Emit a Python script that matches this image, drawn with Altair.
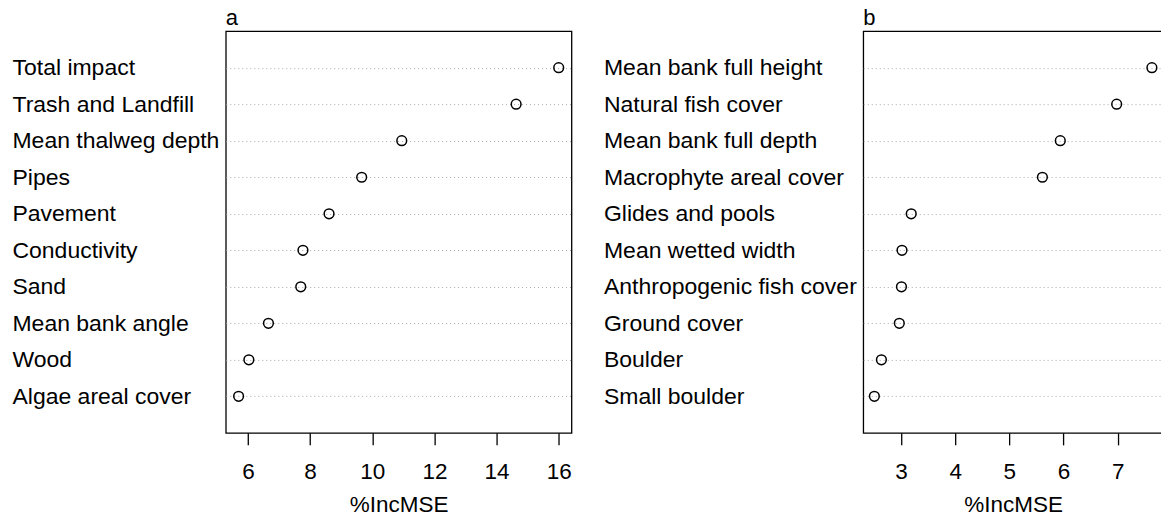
import altair as alt
import pandas as pd

FONT = "Liberation Sans"

# Panel a: variable importance (%IncMSE), listed top to bottom
labels_a = [
    "Total impact", "Trash and Landfill", "Mean thalweg depth", "Pipes",
    "Pavement", "Conductivity", "Sand", "Mean bank angle", "Wood",
    "Algae areal cover",
]
values_a = [16.0, 14.63, 10.95, 9.66, 8.61, 7.77, 7.70, 6.66, 6.03, 5.70]
ticks_a = [6, 8, 10, 12, 14, 16]

# Panel b
labels_b = [
    "Mean bank full height", "Natural fish cover", "Mean bank full depth",
    "Macrophyte areal cover", "Glides and pools", "Mean wetted width",
    "Anthropogenic fish cover", "Ground cover", "Boulder", "Small boulder",
]
values_b = [7.63, 6.98, 5.94, 5.61, 3.19, 3.02, 3.01, 2.97, 2.64, 2.51]
ticks_b = [3, 4, 5, 6, 7]


def dotchart(tag, labels, values, ticks, label_pad, width):
    lo, hi = min(values), max(values)
    pad = 0.04 * (hi - lo)
    df = pd.DataFrame({"variable": labels, "IncMSE": values})
    return (
        alt.Chart(
            df,
            title=alt.Title(tag, anchor="start", frame="group", fontSize=22,
                            fontWeight="normal", font=FONT, color="black",
                            offset=1),
        )
        .mark_point(shape="circle", filled=False, size=95, color="black",
                    strokeWidth=1.5, opacity=1)
        .encode(
            x=alt.X(
                "IncMSE:Q",
                scale=alt.Scale(domain=[lo - pad, hi + pad], nice=False, zero=False),
                axis=alt.Axis(
                    values=ticks, title="%IncMSE", grid=False, domain=False,
                    ticks=True, tickSize=12, tickColor="black", tickWidth=1.3,
                    labelFontSize=22.5, labelPadding=16, labelColor="black",
                    labelFlush=False, titleFontSize=22.5, titleFontWeight="normal",
                    titleColor="black", titlePadding=10, labelFont=FONT,
                    titleFont=FONT,
                ),
            ),
            y=alt.Y(
                "variable:N",
                sort=labels,
                scale=alt.Scale(type="point", padding=1),
                axis=alt.Axis(
                    title=None, ticks=False, domain=False, grid=True,
                    gridDash=[1, 3], gridColor="#a8a8a8", gridWidth=1,
                    labelAlign="left", labelBaseline="middle",
                    labelPadding=label_pad, labelFontSize=23, labelLimit=400,
                    labelColor="black", labelFont=FONT,
                ),
            ),
        )
        .properties(width=width, height=402)
    )


panel_a = dotchart("a", labels_a, values_a, ticks_a, 214, 346)
panel_b = dotchart("b", labels_b, values_b, ticks_b, 260, 300)

chart = (
    alt.hconcat(panel_a, panel_b, spacing=30)
    .properties(padding={"left": 11, "top": 6, "right": -3, "bottom": 0})
    .configure(font=FONT)
    .configure_view(stroke="black", strokeWidth=1.3)
)

chart.save("out.html", embed_options={"renderer": "svg", "actions": False})
